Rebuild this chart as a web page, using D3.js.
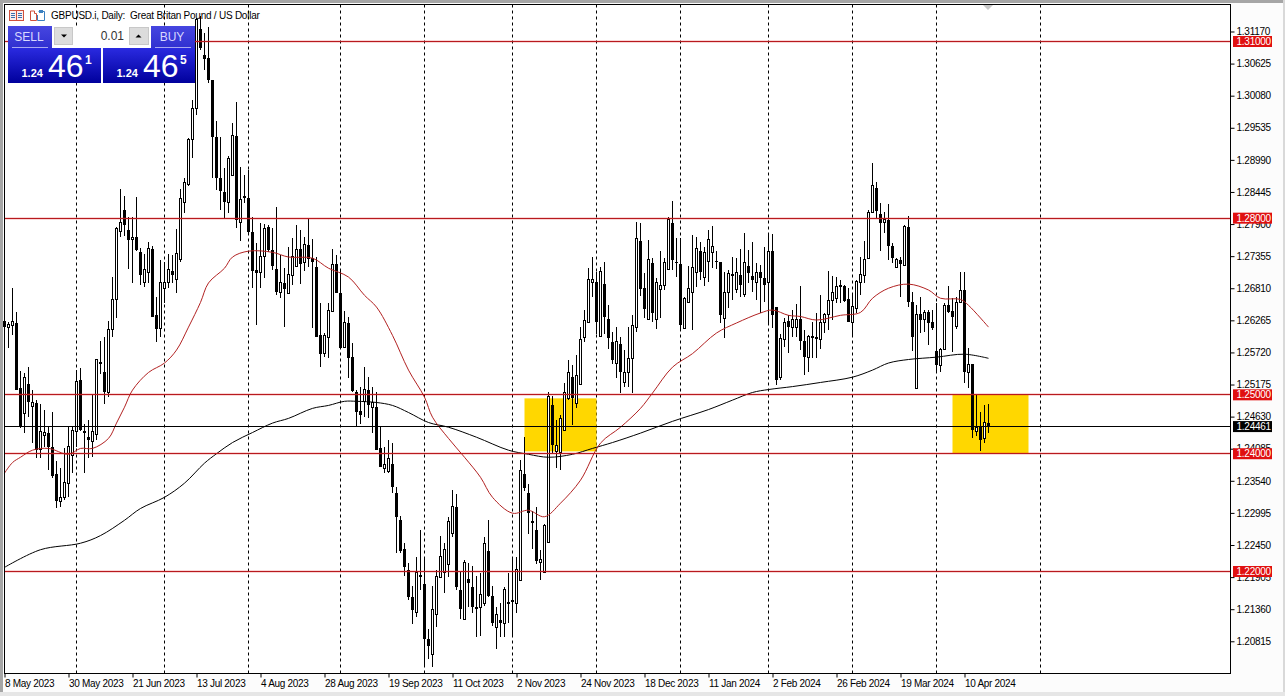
<!DOCTYPE html>
<html>
<head>
<meta charset="utf-8">
<style>
html,body{margin:0;padding:0;background:#fff;overflow:hidden}
svg{display:block}
text{font-family:"Liberation Sans",Arial,sans-serif}
</style>
<script src="https://cdn.jsdelivr.net/npm/d3@7/dist/d3.min.js"></script>
</head>
<body>
<svg id="c" width="1285" height="696"></svg>
<script>
const opens=[1.2625,1.2615,1.2618,1.2622,1.2511,1.2469,1.2518,1.2480,1.2486,1.2407,1.2431,1.2436,1.2411,1.2365,1.2319,1.2326,1.2350,1.2397,1.2438,1.2525,1.2436,1.2428,1.2421,1.2433,1.2554,1.2538,1.2504,1.2611,1.2662,1.2778,
1.2814,1.2780,1.2763,1.2768,1.2742,1.2691,1.2708,1.2747,1.2635,1.2613,1.2681,1.2691,1.2710,1.2696,1.2730,1.2827,1.2858,1.2933,1.2987,1.3121,
1.3077,1.3072,1.3035,1.2938,1.2868,1.2844,1.2827,1.2873,1.2939,1.2793,1.2837,1.2834,1.2776,1.2712,1.2707,1.2735,1.2785,1.2746,1.2713,1.2674,
1.2690,1.2672,1.2703,1.2718,1.2747,1.2724,1.2754,1.2732,1.2717,1.2601,1.2571,1.2598,1.2642,1.2722,1.2673,1.2581,1.2622,1.2564,1.2504,1.2472,
1.2489,1.2509,1.2479,1.2479,1.2409,1.2375,1.2370,1.2382,1.2334,1.2288,1.2239,1.2203,1.2156,1.2130,1.2193,1.2178,1.2086,1.2059,1.2127,1.2190,
1.2198,1.2212,1.2264,1.2309,1.2169,1.2118,1.2188,1.2174,1.2137,1.2139,1.2146,1.2234,1.2159,1.2105,1.2117,1.2112,1.2146,1.2152,1.2146,1.2185,
1.2365,1.2334,1.2285,1.2271,1.2215,1.2198,1.2249,1.2482,1.2404,1.2402,1.2440,1.2494,1.2530,1.2486,1.2518,1.2598,1.2623,1.2691,1.2691,1.2599,
1.2688,1.2628,1.2589,1.2554,1.2586,1.2521,1.2538,1.2562,1.2615,1.2761,1.2681,1.2628,1.2724,1.2628,1.2679,1.2686,1.2712,1.2792,1.2726,1.2722,
1.2613,1.2656,1.2674,1.2707,1.2744,1.2700,1.2727,1.2741,1.2727,1.2725,1.2630,1.2674,1.2706,1.2679,1.2703,1.2671,1.2718,1.2701,1.2691,1.2708,
1.2698,1.2690,1.2744,1.2649,1.2530,1.2594,1.2625,1.2615,1.2615,1.2628,1.2591,1.2564,1.2598,1.2598,1.2594,1.2622,1.2637,1.2661,1.2664,1.2684,
1.2684,1.2662,1.2623,1.2647,1.2691,1.2703,1.2732,1.2809,1.2851,1.2807,1.2792,1.2797,1.2752,1.2717,1.2729,1.2720,1.2785,1.2657,1.2511,1.2637,
1.2628,1.2640,1.2623,1.2574,1.2550,1.2577,1.2652,1.2642,1.2616,1.2656,1.2678,1.2538,1.2552,1.2438,1.2445,1.2426,1.2453];
const highs=[1.2635,1.2623,1.2681,1.2640,1.2540,1.2537,1.2547,1.2508,1.2491,1.2484,1.2474,1.2445,1.2470,1.2387,1.2375,1.2409,1.2445,1.2445,1.2542,1.2545,1.2450,1.2458,1.2501,1.2560,1.2591,1.2598,1.2625,1.2700,1.2785,1.2849,
1.2837,1.2802,1.2802,1.2836,1.2749,1.2739,1.2759,1.2752,1.2666,1.2729,1.2725,1.2739,1.2737,1.2781,1.2849,1.2868,1.2936,1.3001,1.3140,1.3143,
1.3115,1.3125,1.3035,1.2965,1.2938,1.2885,1.2905,1.2962,1.2997,1.2887,1.2873,1.2882,1.2802,1.2758,1.2792,1.2790,1.2788,1.2783,1.2819,1.2737,
1.2715,1.2751,1.2766,1.2788,1.2780,1.2768,1.2800,1.2764,1.2734,1.2656,1.2605,1.2656,1.2747,1.2737,1.2713,1.2642,1.2632,1.2588,1.2509,1.2514,
1.2548,1.2530,1.2513,1.2504,1.2445,1.2411,1.2424,1.2419,1.2343,1.2295,1.2249,1.2215,1.2176,1.2224,1.2271,1.2224,1.2103,1.2176,1.2202,1.2261,
1.2248,1.2292,1.2338,1.2331,1.2200,1.2219,1.2215,1.2210,1.2192,1.2197,1.2258,1.2288,1.2176,1.2139,1.2147,1.2174,1.2198,1.2224,1.2224,1.2389,
1.2428,1.2348,1.2302,1.2309,1.2237,1.2280,1.2504,1.2498,1.2457,1.2465,1.2520,1.2559,1.2550,1.2567,1.2615,1.2644,1.2715,1.2734,1.2708,1.2717,
1.2725,1.2652,1.2606,1.2615,1.2598,1.2576,1.2615,1.2635,1.2793,1.2792,1.2707,1.2763,1.2732,1.2698,1.2744,1.2732,1.2802,1.2829,1.2766,1.2766,
1.2666,1.2718,1.2771,1.2768,1.2759,1.2751,1.2780,1.2786,1.2744,1.2725,1.2708,1.2712,1.2734,1.2732,1.2747,1.2775,1.2746,1.2759,1.2724,1.2720,
1.2751,1.2771,1.2773,1.2649,1.2603,1.2630,1.2635,1.2644,1.2654,1.2684,1.2610,1.2601,1.2623,1.2639,1.2669,1.2639,1.2710,1.2702,1.2700,1.2695,
1.2686,1.2681,1.2669,1.2695,1.2734,1.2761,1.2814,1.2894,1.2861,1.2826,1.2810,1.2824,1.2758,1.2732,1.2734,1.2788,1.2803,1.2674,1.2652,1.2666,
1.2644,1.2644,1.2644,1.2656,1.2579,1.2656,1.2684,1.2664,1.2666,1.2708,1.2708,1.2579,1.2552,1.2499,1.2470,1.2482,1.2484];
const lows=[1.2610,1.2579,1.2601,1.2508,1.2443,1.2436,1.2462,1.2419,1.2392,1.2392,1.2411,1.2373,1.2358,1.2307,1.2309,1.2322,1.2326,1.2367,1.2411,1.2438,1.2367,1.2392,1.2394,1.2423,1.2535,1.2485,1.2496,1.2599,1.2630,1.2768,
1.2769,1.2713,1.2690,1.2744,1.2686,1.2683,1.2690,1.2633,1.2589,1.2598,1.2656,1.2681,1.2690,1.2673,1.2725,1.2809,1.2854,1.2902,1.2975,1.3086,
1.3052,1.3030,1.2868,1.2848,1.2814,1.2800,1.2809,1.2873,1.2783,1.2761,1.2826,1.2775,1.2681,1.2618,1.2681,1.2698,1.2742,1.2712,1.2669,1.2664,
1.2615,1.2671,1.2686,1.2717,1.2688,1.2710,1.2717,1.2613,1.2599,1.2547,1.2565,1.2562,1.2642,1.2673,1.2579,1.2581,1.2528,1.2504,1.2446,1.2450,
1.2462,1.2460,1.2435,1.2406,1.2377,1.2368,1.2368,1.2333,1.2231,1.2231,1.2192,1.2151,1.2110,1.2122,1.2168,1.2037,1.2052,1.2037,1.2105,1.2190,
1.2163,1.2190,1.2258,1.2169,1.2120,1.2118,1.2139,1.2130,1.2088,1.2091,1.2142,1.2156,1.2108,1.2069,1.2088,1.2088,1.2112,1.2088,1.2130,1.2185,
1.2336,1.2263,1.2239,1.2212,1.2185,1.2197,1.2249,1.2402,1.2375,1.2373,1.2438,1.2491,1.2448,1.2477,1.2516,1.2589,1.2622,1.2666,1.2604,1.2598,
1.2603,1.2577,1.2552,1.2528,1.2503,1.2513,1.2513,1.2503,1.2606,1.2667,1.2630,1.2627,1.2623,1.2611,1.2630,1.2678,1.2712,1.2712,1.2700,1.2610,
1.2613,1.2656,1.2610,1.2683,1.2695,1.2684,1.2691,1.2715,1.2713,1.2622,1.2596,1.2647,1.2661,1.2673,1.2666,1.2666,1.2690,1.2674,1.2661,1.2639,
1.2657,1.2622,1.2613,1.2516,1.2525,1.2581,1.2571,1.2598,1.2598,1.2576,1.2533,1.2538,1.2562,1.2562,1.2577,1.2605,1.2610,1.2627,1.2656,1.2656,
1.2657,1.2623,1.2598,1.2639,1.2669,1.2690,1.2732,1.2809,1.2800,1.2744,1.2775,1.2729,1.2724,1.2717,1.2666,1.2720,1.2649,1.2574,1.2511,1.2605,
1.2606,1.2584,1.2610,1.2537,1.2538,1.2576,1.2639,1.2572,1.2611,1.2656,1.2520,1.2511,1.2426,1.2430,1.2404,1.2418,1.2435];
const closes=[1.2616,1.2620,1.2625,1.2509,1.2445,1.2530,1.2487,1.2487,1.2406,1.2438,1.2436,1.2411,1.2363,1.2319,1.2326,1.2351,1.2412,1.2440,1.2523,1.2440,1.2438,1.2423,1.2438,1.2560,1.2555,1.2504,1.2611,1.2662,1.2783,1.2792,
1.2788,1.2763,1.2768,1.2746,1.2703,1.2712,1.2749,1.2633,1.2611,1.2690,1.2691,1.2712,1.2703,1.2740,1.2834,1.2861,1.2933,1.2987,1.3137,1.3089,
1.3070,1.3035,1.2938,1.2868,1.2846,1.2827,1.2902,1.2941,1.2797,1.2832,1.2835,1.2776,1.2710,1.2707,1.2735,1.2783,1.2746,1.2718,1.2674,1.2691,
1.2679,1.2705,1.2735,1.2747,1.2722,1.2756,1.2730,1.2725,1.2599,1.2569,1.2601,1.2644,1.2722,1.2673,1.2579,1.2622,1.2562,1.2506,1.2470,1.2465,
1.2509,1.2482,1.2487,1.2406,1.2377,1.2382,1.2392,1.2343,1.2293,1.2234,1.2208,1.2157,1.2134,1.2198,1.2194,1.2086,1.2074,1.2135,1.2191,1.2225,
1.2237,1.2285,1.2310,1.2173,1.2137,1.2215,1.2181,1.2139,1.2139,1.2161,1.2248,1.2159,1.2112,1.2127,1.2112,1.2169,1.2147,1.2149,1.2203,1.2372,
1.2341,1.2299,1.2282,1.2217,1.2220,1.2278,1.2497,1.2414,1.2414,1.2460,1.2504,1.2538,1.2494,1.2533,1.2594,1.2627,1.2696,1.2695,1.2623,1.2710,
1.2632,1.2596,1.2559,1.2591,1.2538,1.2538,1.2562,1.2618,1.2766,1.2679,1.2645,1.2730,1.2639,1.2690,1.2686,1.2724,1.2798,1.2729,1.2724,1.2618,
1.2664,1.2681,1.2717,1.2749,1.2708,1.2742,1.2763,1.2752,1.2726,1.2635,1.2674,1.2706,1.2701,1.2708,1.2686,1.2725,1.2707,1.2695,1.2708,1.2698,
1.2686,1.2744,1.2635,1.2525,1.2596,1.2623,1.2616,1.2628,1.2628,1.2591,1.2564,1.2599,1.2599,1.2594,1.2622,1.2637,1.2661,1.2673,1.2684,1.2686,
1.2659,1.2623,1.2650,1.2693,1.2705,1.2730,1.2809,1.2856,1.2812,1.2792,1.2797,1.2752,1.2732,1.2729,1.2722,1.2786,1.2657,1.2599,1.2637,1.2627,
1.2640,1.2622,1.2613,1.2550,1.2577,1.2652,1.2640,1.2633,1.2656,1.2678,1.2538,1.2552,1.2441,1.2445,1.2424,1.2453,1.24461];

const ma50Bars=[0,2,4,7,11,16,19,22,26,28,30,32,36,40,43,46,49,51,55,57,61,67,71,77,81,86,90,93,97,101,105,107,111,115,119,122,127,131,135,139,144,149,154,159,162,167,172,178,183,189,192,196,199,203,209,214,217,221,226,231,234,239,241,246];
const ma50Values=[1.2367,1.2385,1.2394,1.2406,1.2409,1.2399,1.2409,1.2409,1.2426,1.2452,1.2479,1.2508,1.2538,1.2554,1.2576,1.2615,1.2657,1.2690,1.2715,1.2734,1.2744,1.2742,1.2734,1.2732,1.2715,1.2700,1.2669,1.2649,1.2601,1.2542,1.2496,1.2462,1.2426,1.2394,1.2360,1.2326,1.2299,1.2304,1.2293,1.2316,1.2355,1.2418,1.2445,1.2477,1.2503,1.2547,1.2570,1.2605,1.2622,1.2639,1.2644,1.2635,1.2633,1.2627,1.2635,1.2640,1.2664,1.2681,1.2688,1.2678,1.2664,1.2662,1.2652,1.2615];
const ma200Bars=[0,9,19,24,30,34,40,45,50,53,57,62,67,71,77,81,85,88,93,97,101,106,111,118,126,131,136,142,147,152,159,167,176,182,187,191,197,204,212,217,221,226,233,240,246];
const ma200Values=[1.2207,1.2237,1.2248,1.2261,1.2287,1.2307,1.2326,1.2350,1.2384,1.2400,1.2419,1.2436,1.2452,1.2460,1.2477,1.2482,1.2489,1.2489,1.2487,1.2482,1.2470,1.2453,1.2445,1.2428,1.2406,1.2399,1.2394,1.2399,1.2409,1.2419,1.2435,1.2455,1.2475,1.2491,1.2504,1.2509,1.2514,1.2521,1.2530,1.2542,1.2554,1.2560,1.2564,1.2569,1.2562];

const levels=[1.31,1.28,1.25,1.24,1.22];
const lastPrice=1.24461;
const priceTicks=[1.31170,1.30625,1.30080,1.29535,1.28990,1.28445,1.27900,1.27355,1.26810,1.26265,1.25720,1.25175,1.24630,1.24085,1.23540,1.22995,1.22450,1.21905,1.21360,1.20815];
const dateLabels=["8 May 2023","30 May 2023","21 Jun 2023","13 Jul 2023","4 Aug 2023","28 Aug 2023","19 Sep 2023","11 Oct 2023","2 Nov 2023","24 Nov 2023","18 Dec 2023","11 Jan 2024","2 Feb 2024","26 Feb 2024","19 Mar 2024","10 Apr 2024"];
const barsPerLabel=16;
const monthStartBars=[18,40,61,84,105,127,148,169,191,212,233,259];
const zoneA={bars:[130,148],prices:[1.2494,1.2404]};
const zoneB={bars:[237,256],prices:[1.2500,1.2400]};
const titleText="GBPUSD.i, Daily:  Great Britan Pound / US Dollar";

const svg=d3.select("#c");
const L=4.5,R=1230.5,T=4.5,B=673.5;
const x=d3.scaleLinear().domain([0,1]).range([4.5,8.5]);
const y=d3.scaleLinear().domain([1.31,1.22]).range([41.5,571.5]);
const snap=v=>Math.round(v-0.5)+0.5;

// window chrome
svg.append("rect").attr("width",1285).attr("height",696).attr("fill","#fcfcfc");
svg.append("rect").attr("width",1285).attr("height",3).attr("fill","#a6a6a6");
svg.append("rect").attr("width",3).attr("height",696).attr("fill","#a6a6a6");
svg.append("rect").attr("x",1283).attr("width",2).attr("height",696).attr("fill","#d9d9d9");
svg.append("rect").attr("y",692).attr("width",1285).attr("height",4).attr("fill","#e6e6e6");
svg.append("rect").attr("x",L).attr("y",T).attr("width",R-L).attr("height",B-T).attr("fill","#fff");

const plot=svg.append("g");
// month grid
plot.selectAll(".g").data(monthStartBars).enter().append("line")
 .attr("x1",d=>x(d)).attr("x2",d=>x(d)).attr("y1",T).attr("y2",B)
 .attr("stroke","#000").attr("stroke-dasharray","3,3");
// yellow zones
[zoneA,zoneB].forEach(z=>{
 plot.append("rect").attr("x",x(z.bars[0])).attr("width",x(z.bars[1])-x(z.bars[0]))
  .attr("y",y(z.prices[0])).attr("height",y(z.prices[1])-y(z.prices[0])).attr("fill","#ffd700");
});
// candles
const idx=d3.range(opens.length);
plot.selectAll(".w").data(idx).enter().append("line")
 .attr("x1",i=>x(i)).attr("x2",i=>x(i))
 .attr("y1",i=>Math.round(y(highs[i]))).attr("y2",i=>Math.round(y(lows[i])))
 .attr("stroke","#000");
plot.selectAll(".b").data(idx).enter().append("rect")
 .each(function(i){
   const top=y(Math.max(opens[i],closes[i])),bot=y(Math.min(opens[i],closes[i]));
   const bull=closes[i]>opens[i];
   const s=d3.select(this);
   if(bull){
     const t=snap(top),b=Math.max(snap(bot),t+1);
     s.attr("x",x(i)-1).attr("width",2).attr("y",t).attr("height",b-t).attr("fill","#fff").attr("stroke","#000");
   } else {
     const t=Math.round(top),b=Math.max(Math.round(bot),t+1);
     s.attr("x",x(i)-1.5).attr("width",3).attr("y",t).attr("height",b-t).attr("fill","#000");
   }
 });
// moving averages
const lineOf=(bars,vals)=>d3.line().x((d,i)=>x(bars[i])).y(d=>y(d)).curve(d3.curveCatmullRom.alpha(0.5))(vals);
plot.append("path").attr("d",lineOf(ma200Bars,ma200Values)).attr("fill","none").attr("stroke","#000").attr("stroke-width",1);
plot.append("path").attr("d",lineOf(ma50Bars,ma50Values)).attr("fill","none").attr("stroke","#b22222").attr("stroke-width",1);
// level lines with the soft halo the reference shows
plot.selectAll(".lh").data(levels).enter().append("line")
 .attr("x1",L).attr("x2",R).attr("y1",d=>snap(y(d))).attr("y2",d=>snap(y(d)))
 .attr("stroke","#e02020").attr("stroke-opacity",0.18).attr("stroke-width",3);
plot.selectAll(".lv").data(levels).enter().append("line")
 .attr("x1",L).attr("x2",R).attr("y1",d=>snap(y(d))).attr("y2",d=>snap(y(d)))
 .attr("stroke","#b81a1e");
plot.append("line").attr("x1",L).attr("x2",R).attr("y1",snap(y(lastPrice))).attr("y2",snap(y(lastPrice))).attr("stroke","#000");
// frame
svg.append("rect").attr("x",L).attr("y",T).attr("width",R-L).attr("height",B-T).attr("fill","none").attr("stroke","#000");
svg.append("path").attr("d","M983 5 L993 5 L988 10 Z").attr("fill","#c8c8c8");

// price axis
const yAxis=d3.axisRight(y).tickValues(priceTicks).tickSize(4).tickPadding(2).tickFormat(d3.format(".5f"));
const gy=svg.append("g").attr("transform",`translate(${R},0)`).call(yAxis);
gy.select(".domain").remove();
gy.selectAll("text").attr("font-size",10).attr("letter-spacing","-0.25").attr("fill","#000").attr("font-family","Liberation Sans");
gy.selectAll("line").attr("stroke","#000");
// date axis
const dateBars=dateLabels.map((d,i)=>i*barsPerLabel);
const xAxis=d3.axisBottom(x).tickValues(dateBars).tickSize(4).tickFormat((d,i)=>dateLabels[i]);
const gx=svg.append("g").attr("transform",`translate(0,${B})`).call(xAxis);
gx.select(".domain").remove();
gx.selectAll("text").attr("text-anchor","start").attr("dx",0).attr("dy",6.5).attr("font-size",10).attr("letter-spacing","-0.3").attr("fill","#000").attr("font-family","Liberation Sans");
gx.selectAll("line").attr("stroke","#000");

// price tags
const tag=(v,fill)=>{
 const g=svg.append("g");
 g.append("rect").attr("x",1233).attr("y",y(v)-5.5).attr("width",39).attr("height",11).attr("fill",fill);
 g.append("text").attr("x",1236.5).attr("y",y(v)+3.6).attr("font-size",10).attr("letter-spacing","-0.25").attr("fill","#fff").text(v.toFixed(5));
};
levels.forEach(v=>tag(v,"#e01010"));
tag(lastPrice,"#000");

// title + icons
const icons=svg.append("g");
icons.append("rect").attr("x",9.5).attr("y",10.5).attr("width",14).attr("height",10).attr("fill","#fbeeee").attr("stroke","#d0503c");
icons.append("path").attr("d","M16.5 11V20").attr("stroke","#d0503c").attr("fill","none");
icons.append("path").attr("d","M11 13.5H15M18 13.5H22M11 15.5H15M18 15.5H22M11 17.5H15M18 17.5H22").attr("stroke","#3a70b0").attr("fill","none");
icons.append("path").attr("d","M30.5 11H34.5V13.5H36.5V20.5H30.5Z").attr("fill","#fff").attr("stroke","#d0503c");
icons.append("path").attr("d","M38.5 11.5H44.5V20.5H37.5V15").attr("fill","#fff").attr("stroke","#3a80c0");
icons.append("rect").attr("x",39).attr("y",10).attr("width",4).attr("height",3).attr("fill","#3a80c0");
svg.append("text").attr("x",51).attr("y",19).attr("font-size",10).attr("letter-spacing","-0.24").attr("fill","#000").attr("xml:space","preserve").style("white-space","pre").text(titleText);

// one-click panel
const defs=svg.append("defs");
const grad=(id,a,b)=>{const g=defs.append("linearGradient").attr("id",id).attr("x1",0).attr("y1",0).attr("x2",0).attr("y2",1);
 g.append("stop").attr("offset",0).attr("stop-color",a);g.append("stop").attr("offset",1).attr("stop-color",b);};
grad("btn","#4646e0","#3030d0");grad("pr","#2a2ae0","#00009c");
const p=svg.append("g");
p.append("rect").attr("x",52).attr("y",26).attr("width",99).attr("height",22).attr("fill","#fff");
p.append("rect").attr("x",8).attr("y",26).attr("width",44).attr("height",22).attr("fill","url(#btn)");
p.append("rect").attr("x",151).attr("y",26).attr("width",44).attr("height",22).attr("fill","url(#btn)");
p.append("rect").attr("x",54.5).attr("y",27.5).attr("width",18).attr("height",17).attr("fill","#dcdcdc").attr("stroke","#c8c8c8");
p.append("rect").attr("x",129.5).attr("y",27.5).attr("width",19).attr("height",17).attr("fill","#dcdcdc").attr("stroke","#c8c8c8");
p.append("path").attr("d","M61 34.5H67L64 37.5Z").attr("fill","#000");
p.append("path").attr("d","M135.5 37.5H141.5L138.5 34.5Z").attr("fill","#000");
p.append("text").attr("x",124).attr("y",40).attr("text-anchor","end").attr("font-size",12).attr("fill","#333").text("0.01");
p.append("text").attr("x",29).attr("y",41).attr("text-anchor","middle").attr("font-size",12).attr("fill","#d8d8ff").text("SELL");
p.append("text").attr("x",172).attr("y",41).attr("text-anchor","middle").attr("font-size",12).attr("fill","#d8d8ff").text("BUY");
p.append("line").attr("x1",12).attr("x2",48).attr("y1",47.5).attr("y2",47.5).attr("stroke","#a8a8f0");
p.append("line").attr("x1",155).attr("x2",191).attr("y1",47.5).attr("y2",47.5).attr("stroke","#a8a8f0");
const quote=(x0,w,big,small,smallDx)=>{
 p.append("rect").attr("x",x0).attr("y",48).attr("width",w).attr("height",35).attr("fill","url(#pr)");
 p.append("text").attr("x",x0+13.5).attr("y",77).attr("font-size",11).attr("font-weight","bold").attr("fill","#fff").text("1.24");
 p.append("text").attr("x",x0+40).attr("y",77).attr("font-size",32).attr("font-family","Open Sans").attr("fill","#fff").text(big);
 p.append("text").attr("x",x0+smallDx).attr("y",64).attr("font-size",12).attr("font-weight","bold").attr("fill","#fff").text(small);
};
quote(8,93,"46","1",77);
quote(103,92,"46","5",77);
</script>
</body>
</html>
